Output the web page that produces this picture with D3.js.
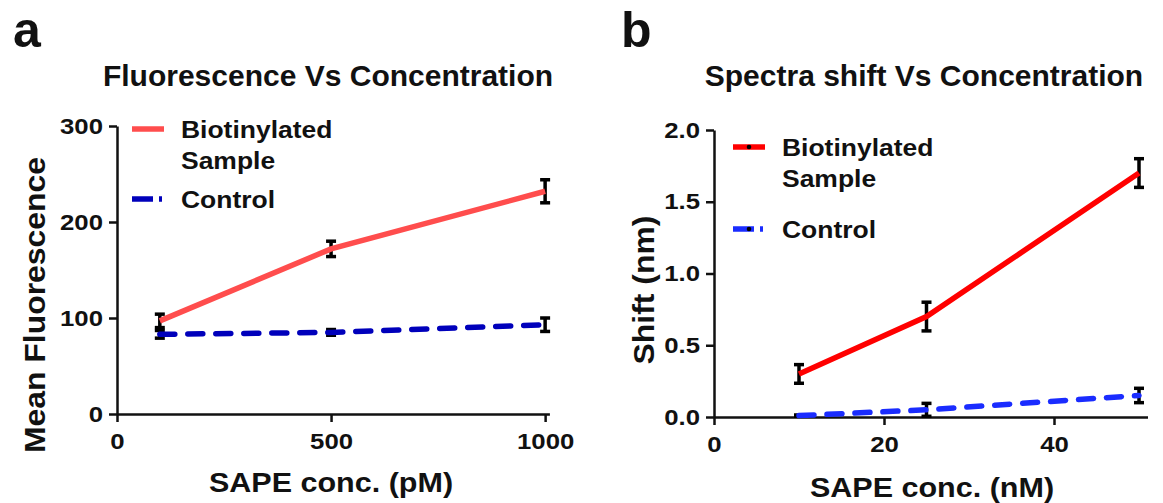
<!DOCTYPE html>
<html>
<head>
<meta charset="utf-8">
<script src="https://cdn.jsdelivr.net/npm/d3@7"></script>
<style>
  body { margin: 0; background: #fff; }
  svg text { font-family: "Liberation Sans", Arial, sans-serif; font-weight: bold; fill: #111; }
</style>
</head>
<body>
<svg id="chart" width="1163" height="503"></svg>
<script>
// panel a: fluorescence
const concA = [100, 500, 1000];
const bioA = [97, 172, 232];
const bioErrA = [7, 8, 12];
const ctrlA = [83, 85, 93];
const ctrlErrA = [4, 3, 7];
const xTicksA = [0, 500, 1000];
const yTicksA = [0, 100, 200, 300];

// panel b: spectra shift
const concB = [10, 25, 50];
const bioB = [0.30, 0.70, 1.70];
const bioErrB = [0.065, 0.1, 0.1];
const ctrlB = [0.01, 0.05, 0.15];
const ctrlErrB = [0.004, 0.045, 0.05];
const xTicksB = [0, 20, 40];
const yTicksB = [0, 0.5, 1.0, 1.5, 2.0];

const svg = d3.select('#chart');

// the source figure's lettering is a bit wider than Liberation Sans
function stretch(sel, k) {
  sel.each(function () {
    const w = this.getComputedTextLength();
    d3.select(this).attr('textLength', w * k).attr('lengthAdjust', 'spacingAndGlyphs');
  });
}

function drawPanel(p) {
  const x = d3.scaleLinear().domain(p.xDomain).range(p.xRange);
  const y = d3.scaleLinear().domain(p.yDomain).range(p.yRange);

  // panel letter and title
  svg.append('text').attr('x', p.letterX).attr('y', 47)
    .attr('font-size', 50).text(p.letter);
  svg.append('text').attr('x', p.titleX).attr('y', 86)
    .attr('text-anchor', 'middle').attr('font-size', 30).text(p.title);

  // axes
  const xAxis = svg.append('g')
    .attr('transform', `translate(0,${p.yRange[0]})`)
    .call(d3.axisBottom(x).tickValues(p.xTicks).tickFormat(d3.format('d')).tickSize(8).tickSizeOuter(0).tickPadding(11));
  const yAxis = svg.append('g')
    .attr('transform', `translate(${p.xRange[0]},0)`)
    .call(d3.axisLeft(y).tickValues(p.yTicks).tickFormat(p.yFormat).tickSize(8).tickSizeOuter(0).tickPadding(6));
  [xAxis, yAxis].forEach(g => {
    g.selectAll('path, line').attr('stroke', '#111').attr('stroke-width', 2.5);
    const t = g.selectAll('text').attr('font-size', 22).attr('fill', '#111');
    stretch(t, 1.17);
  });

  // axis labels
  const yl = svg.append('text')
    .attr('transform', `translate(${p.yLabelX},${p.yLabelY}) rotate(-90)`)
    .attr('text-anchor', 'middle').attr('font-size', 29).text(p.yLabel);
  stretch(yl, 1.1);
  const xl = svg.append('text').attr('x', p.xLabelX).attr('y', p.xLabelY)
    .attr('text-anchor', 'middle').attr('font-size', 28).text(p.xLabel);
  stretch(xl, 1.09);

  const line = d3.line().x(d => x(d[0])).y(d => y(d[1]));

  const series = [
    { vals: p.bio, err: p.bioErr, color: p.red, dash: null },
    { vals: p.ctrl, err: p.ctrlErr, color: p.blue, dash: '15 13' }
  ];

  series.forEach(s => {
    const pts = p.conc.map((c, i) => [c, s.vals[i], s.err[i]]);
    // error bars
    const eb = svg.append('g').attr('stroke', '#000').attr('stroke-width', 3.5);
    pts.forEach(d => {
      const cx = x(d[0]);
      eb.append('line').attr('x1', cx).attr('x2', cx)
        .attr('y1', y(d[1] - d[2])).attr('y2', y(d[1] + d[2]));
      [d[1] - d[2], d[1] + d[2]].forEach(v => {
        eb.append('line').attr('x1', cx - 5).attr('x2', cx + 5)
          .attr('y1', y(v)).attr('y2', y(v));
      });
    });
    svg.append('path').datum(pts)
      .attr('fill', 'none').attr('stroke', s.color).attr('stroke-width', 5.5)
      .attr('stroke-linecap', s.dash ? 'round' : 'butt')
      .attr('stroke-dasharray', s.dash).attr('d', line);
  });

  // legend
  const lg = svg.append('g');
  p.legend.forEach((item, i) => {
    const s = series[i];
    lg.append('line').attr('x1', p.legX).attr('x2', p.legX + 32)
      .attr('y1', item.y).attr('y2', item.y)
      .attr('stroke', s.color).attr('stroke-width', 5.5)
      .attr('stroke-dasharray', s.dash ? '21 6 3 20' : null);
    if (p.legendDot) {
      lg.append('circle').attr('cx', p.legX + 16).attr('cy', item.y).attr('r', 2.3).attr('fill', '#000');
    }
    item.lines.forEach((t, j) => {
      const tx = lg.append('text').attr('x', p.legX + 49).attr('y', item.y + 9 + j * 31)
        .attr('font-size', 24.5).text(t);
      stretch(tx, 1.08);
    });
  });
}

drawPanel({
  letter: 'a', letterX: 13, title: 'Fluorescence Vs Concentration', titleX: 328,
  xDomain: [0, 1010], xRange: [117, 549.4], yDomain: [0, 300], yRange: [414, 126],
  xTicks: xTicksA, yTicks: yTicksA, yFormat: d3.format('d'),
  yLabel: 'Mean Fluorescence', yLabelX: 45, yLabelY: 305,
  xLabel: 'SAPE conc. (pM)', xLabelX: 331, xLabelY: 492,
  conc: concA, bio: bioA, bioErr: bioErrA, ctrl: ctrlA, ctrlErr: ctrlErrA,
  red: '#ff4d4d', blue: '#0000bb',
  legX: 132, legendDot: false,
  legend: [{ y: 129, lines: ['Biotinylated', 'Sample'] }, { y: 199, lines: ['Control'] }]
});

drawPanel({
  letter: 'b', letterX: 621, title: 'Spectra shift Vs Concentration', titleX: 924,
  xDomain: [0, 51], xRange: [714, 1147.5], yDomain: [0, 2], yRange: [417, 130],
  xTicks: xTicksB, yTicks: yTicksB, yFormat: d3.format('.1f'),
  yLabel: 'Shift (nm)', yLabelX: 654, yLabelY: 290,
  xLabel: 'SAPE conc. (nM)', xLabelX: 932, xLabelY: 497,
  conc: concB, bio: bioB, bioErr: bioErrB, ctrl: ctrlB, ctrlErr: ctrlErrB,
  red: '#ff0000', blue: '#1a2cff',
  legX: 733, legendDot: true,
  legend: [{ y: 147, lines: ['Biotinylated', 'Sample'] }, { y: 229, lines: ['Control'] }]
});
</script>
</body>
</html>
